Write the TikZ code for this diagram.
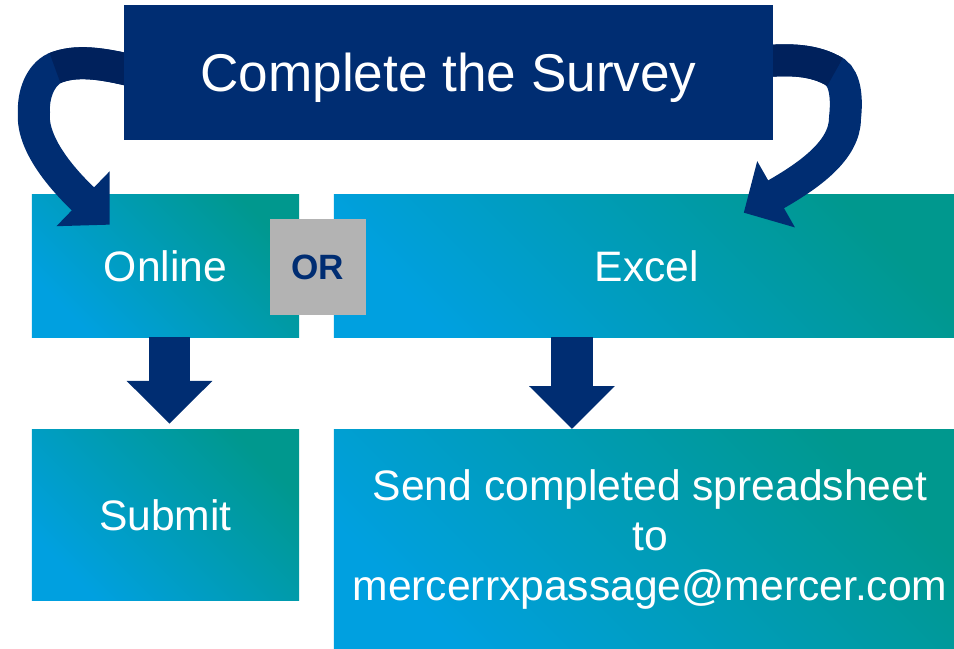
\documentclass[tikz,border=0pt]{standalone}
\usepackage{fontspec}
\setsansfont{Liberation Sans}
\usetikzlibrary{arrows.meta}
\usetikzlibrary{shapes}

\definecolor{mercerNavy}{RGB}{0,45,114}
\definecolor{mercerDark}{RGB}{0,33,92}
\definecolor{mercerBlue}{RGB}{0,160,224}
\definecolor{mercerTeal}{RGB}{0,152,142}
\definecolor{orGray}{RGB}{179,179,179}

\pgfdeclarelayer{front}
\pgfsetlayers{main,front}

\begin{document}
\begin{tikzpicture}[x = 0.025cm, y = -0.025cm, font=\sffamily]
\tikzstyle{titleStyle} = [shape = rectangle, fill = mercerNavy, text = white, inner sep = 0pt, minimum width = 16.225cm, minimum height = 3.375cm, text height = 1.22cm, text depth = 0.28cm, font = \sffamily\fontsize{37.8}{44}\selectfont]
\tikzstyle{boxStyle} = [shape = rectangle, bottom color = mercerBlue, top color = mercerTeal, shading angle = -45, text = white, inner sep = 0pt, align = center, font = \sffamily\fontsize{30.3}{35.6}\selectfont]
\tikzstyle{orStyle} = [shape = rectangle, fill = orGray, text = mercerNavy, inner sep = 0pt, minimum size = 2.4cm, font = \sffamily\bfseries\fontsize{25}{30}\selectfont]
\tikzstyle{downArrowStyle} = [draw = mercerNavy, line width = 1.03cm, -{Triangle[width = 2.08cm, length = 1.07cm]}]
\tikzstyle{bendArrowStyle} = [draw = mercerNavy, line width = 0.8cm, -{Triangle[width = 1.85cm, length = 0.93cm]}]
\tikzstyle{foldStyle} = [draw = mercerDark, line width = 0.8cm]
\useasboundingbox (0,0) rectangle (954,649);
\begin{pgfonlayer}{front}
\node[titleStyle] (survey) at (448.5,72.5) {Complete the Survey};
\end{pgfonlayer}
\node[boxStyle, minimum width = 6.675cm, minimum height = 3.55cm] (online) at (165.5,266) {Online};
\node[boxStyle, minimum width = 15.5cm, minimum height = 3.55cm] (excel) at (644,266) {\hspace*{0.15cm}Excel};
\node[orStyle] (or) at (318,267) {OR};
\node[boxStyle, minimum width = 6.675cm, minimum height = 4.25cm] (submit) at (165.5,515) {Submit};
\node[boxStyle, minimum width = 15.5cm, minimum height = 5.475cm] (send) at (644,539.5) {\hspace*{0.3cm}Send completed spreadsheet\\\hspace*{0.3cm}to\\\hspace*{0.3cm}mercerrxpassage@mercer.com};
\coordinate (leftFold) at (55,68);
\coordinate (rightFold) at (835,72);
% bent arrows out of the title
\draw[bendArrowStyle] ([xshift = 0.5cm, yshift = -0.03cm]survey.west) .. controls (100,62) and (75,60) .. (leftFold) .. controls (40,75) and (33,95) .. (34,112) .. controls (30,150) and (78,194) .. ([xshift = 1.95cm, yshift = -0.75cm]online.north west);
\draw[foldStyle] ([xshift = 0.5cm, yshift = -0.03cm]survey.west) .. controls (100,62) and (75,60) .. (leftFold);
\draw[bendArrowStyle] ([xshift = -0.5cm, yshift = 0.25cm]survey.east) .. controls (790,58) and (815,60) .. (rightFold) .. controls (846,80) and (847,100) .. (845,118) .. controls (845,150) and (810,175) .. ([xshift = 10.25cm, yshift = -0.45cm]excel.north west);
\draw[foldStyle] ([xshift = -0.5cm, yshift = 0.25cm]survey.east) .. controls (790,58) and (815,60) .. (rightFold);
% straight arrows
\draw[downArrowStyle] ([xshift = 0.1cm]online.south) -- ([xshift = 0.1cm, yshift = 0.15cm]submit.north);
\draw[downArrowStyle] ([xshift = -1.8cm]excel.south) -- ([xshift = -1.8cm, yshift = 0.02cm]send.north);
\end{tikzpicture}
\end{document}
